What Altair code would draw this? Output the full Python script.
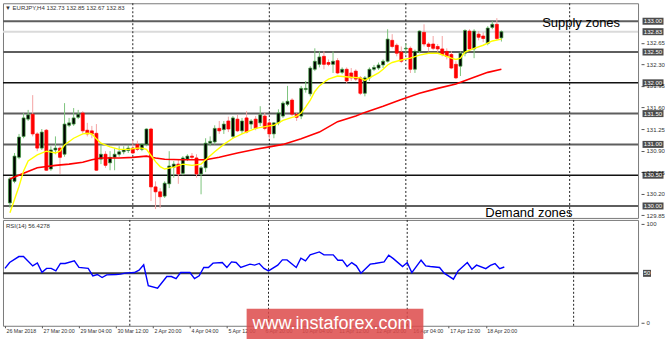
import json
import altair as alt
import pandas as pd

FONT = "Liberation Sans"

symbol = "EURJPY,H4"

# ---- H4 candles, bar 0 = 26 Mar 2018 12:00 ----
opens = [130.05, 130.40, 130.79, 131.13, 131.41, 131.49, 131.17, 130.94, 131.23, 130.60,
         130.91, 130.94, 130.84, 131.31, 131.33, 131.44, 131.51, 131.23, 131.22, 131.18,
         130.76, 130.84, 130.70, 130.79, 130.84, 130.88, 130.90, 130.94, 131.00, 130.92,
         131.00, 131.25, 130.31, 130.23, 130.16, 130.36, 130.63, 130.68, 130.53, 130.76,
         130.81, 130.78, 130.52, 130.62, 131.02, 131.04, 131.26, 131.24, 131.38, 131.13,
         131.41, 131.22, 131.43, 131.33, 131.41, 131.35, 131.46, 131.35, 131.17, 131.35,
         131.46, 131.65, 131.72, 131.49, 131.46, 131.89, 131.82, 132.22, 132.30, 132.43,
         132.33, 132.30, 132.36, 132.17, 132.22, 132.16, 132.19, 132.08, 131.83, 132.08,
         132.22, 132.24, 132.29, 132.35, 132.69, 132.61, 132.50, 132.55, 132.56, 132.22,
         132.51, 132.82, 132.63, 132.63, 132.59, 132.55, 132.51, 132.46, 132.30, 132.27,
         132.48, 132.84, 132.55, 132.79, 132.76, 132.64, 132.90, 132.95, 132.73]
highs = [130.47, 130.86, 131.17, 131.51, 131.56, 131.80, 131.20, 131.25, 131.25, 130.97,
         131.13, 130.97, 131.67, 131.43, 131.59, 131.56, 131.54, 131.35, 131.30, 131.33,
         131.00, 130.89, 130.89, 130.94, 130.97, 130.97, 130.99, 131.07, 131.06, 131.02,
         131.26, 131.27, 130.40, 130.29, 130.40, 130.89, 130.73, 130.76, 130.81, 130.84,
         130.86, 130.84, 130.65, 131.10, 131.13, 131.31, 131.38, 131.38, 131.45, 131.46,
         131.48, 131.43, 131.54, 131.41, 131.46, 131.62, 131.51, 131.40, 131.36, 131.57,
         131.70, 131.95, 131.75, 131.52, 131.95, 132.03, 132.27, 132.56, 132.51, 132.51,
         132.38, 132.51, 132.40, 132.25, 132.25, 132.24, 132.22, 132.11, 132.11, 132.25,
         132.29, 132.33, 132.38, 132.87, 132.79, 132.64, 132.59, 132.64, 132.59, 132.54,
         132.85, 132.95, 132.66, 132.76, 132.63, 132.76, 132.56, 132.51, 132.35, 132.51,
         132.87, 132.87, 132.87, 132.84, 132.82, 132.92, 133.00, 133.05, 132.85]
lows = [129.97, 130.37, 130.76, 131.10, 131.38, 131.13, 130.89, 130.91, 130.57, 130.57,
        130.84, 130.52, 130.80, 131.28, 131.30, 131.41, 131.18, 131.13, 131.10, 130.57,
        130.68, 130.62, 130.58, 130.58, 130.80, 130.84, 130.86, 130.84, 130.89, 130.89,
        130.97, 130.08, 129.95, 129.97, 130.13, 130.29, 130.46, 130.36, 130.50, 130.73,
        130.76, 130.46, 130.19, 130.55, 130.97, 131.00, 131.17, 131.17, 131.20, 131.10,
        131.20, 131.17, 131.18, 131.25, 131.23, 131.30, 131.23, 131.09, 131.10, 131.31,
        131.43, 131.62, 131.46, 131.38, 131.41, 131.84, 131.78, 132.19, 132.25, 132.22,
        132.27, 132.16, 132.14, 132.14, 131.99, 132.03, 132.03, 131.80, 131.78, 132.03,
        132.19, 132.21, 132.24, 132.33, 132.56, 132.43, 132.32, 132.46, 132.16, 132.16,
        132.48, 132.59, 132.51, 132.53, 132.50, 132.43, 132.38, 132.22, 132.06, 132.11,
        132.43, 132.53, 132.40, 132.69, 132.66, 132.61, 132.87, 132.69, 132.67]
closes = [130.44, 130.81, 131.12, 131.43, 131.48, 131.17, 130.94, 131.20, 130.58, 130.91,
          130.94, 130.79, 131.33, 131.35, 131.43, 131.49, 131.22, 131.17, 131.17, 130.58,
          130.84, 130.66, 130.79, 130.84, 130.88, 130.91, 130.94, 130.86, 130.92, 131.00,
          131.25, 130.31, 130.23, 130.15, 130.37, 130.65, 130.68, 130.52, 130.78, 130.81,
          130.79, 130.52, 130.62, 131.02, 131.05, 131.26, 131.22, 131.33, 131.25, 131.43,
          131.22, 131.38, 131.20, 131.38, 131.26, 131.48, 131.26, 131.17, 131.35, 131.51,
          131.67, 131.70, 131.49, 131.44, 131.91, 131.91, 132.24, 132.35, 132.42, 132.30,
          132.30, 132.35, 132.16, 132.22, 132.03, 132.08, 132.06, 131.83, 132.08, 132.22,
          132.25, 132.29, 132.35, 132.71, 132.59, 132.48, 132.35, 132.56, 132.22, 132.51,
          132.84, 132.63, 132.59, 132.56, 132.55, 132.46, 132.43, 132.24, 132.08, 132.48,
          132.85, 132.55, 132.84, 132.74, 132.72, 132.89, 132.95, 132.72, 132.83]

# ---- moving averages (bar index, price) ----
ma_fast_idx = [0, 2, 3, 4, 6, 8, 10, 11, 12, 14, 16, 17, 18, 19, 20, 22, 24, 26, 28, 29,
               30, 31, 32, 33, 34, 36, 38, 40, 42, 43, 45, 47, 49, 51, 54, 57, 58, 60, 62, 63,
               64, 65, 66, 67, 68, 69, 70, 72, 75, 77, 78, 79, 80, 81, 82, 83, 84, 86, 88, 90,
               92, 94, 96, 97, 98, 99, 100, 102, 104, 106, 108]
ma_fast_val = [129.89, 130.32, 130.57, 130.73, 130.83, 130.89, 130.86, 130.89, 130.99, 131.10,
               131.17, 131.18, 131.17, 131.09, 131.02, 130.96, 130.92, 130.92, 130.94, 130.94,
               130.92, 130.82, 130.72, 130.64, 130.60, 130.63, 130.68, 130.66, 130.68, 130.75,
               130.88, 131.00, 131.10, 131.17, 131.26, 131.30, 131.31, 131.39, 131.44, 131.46,
               131.51, 131.61, 131.72, 131.86, 131.95, 132.01, 132.06, 132.11, 132.09, 132.08,
               132.04, 132.08, 132.12, 132.16, 132.22, 132.29, 132.33, 132.37, 132.40, 132.45,
               132.48, 132.48, 132.43, 132.40, 132.38, 132.40, 132.50, 132.56, 132.61, 132.68,
               132.71]
ma_slow_idx = [0, 3, 6, 10, 13, 16, 18, 20, 24, 27, 30, 32, 34, 38, 43, 46, 50, 54, 57, 60,
               64, 68, 72, 76, 78, 82, 86, 90, 94, 98, 102, 105, 108]
ma_slow_val = [130.44, 130.53, 130.62, 130.66, 130.68, 130.71, 130.75, 130.78, 130.78, 130.79,
               130.81, 130.78, 130.76, 130.75, 130.75, 130.79, 130.86, 130.92, 130.96, 131.00,
               131.09, 131.20, 131.37, 131.46, 131.52, 131.62, 131.73, 131.83, 131.91, 131.98,
               132.09, 132.17, 132.22]

# ---- RSI(14) ----
rsi_idx = [0, 1, 3, 4, 6, 7, 8, 9, 10, 11, 12, 13, 15, 16, 18, 19, 20, 21, 22, 24,
           25, 26, 28, 29, 30, 31, 33, 35, 36, 37, 38, 40, 41, 42, 43, 44, 45, 47, 48, 49,
           50, 51, 53, 54, 55, 56, 57, 59, 60, 61, 63, 64, 65, 66, 68, 69, 71, 72, 73, 74,
           75, 76, 77, 79, 80, 82, 83, 84, 86, 87, 88, 90, 91, 92, 94, 95, 97, 98, 100, 101,
           102, 104, 105, 106, 107, 108]
rsi_val = [55, 61, 67, 67, 57.5, 60.5, 51, 55, 55, 52.5, 60, 60, 62.6, 56, 55, 47.5, 48.8, 45.8, 48.5, 48.8,
           49.2, 50.2, 50.8, 53.2, 58.6, 37.4, 35, 46.8, 46.8, 44.7, 50.8, 50.8, 44.7, 47.5, 55.9, 55.9, 60.3, 61, 55.9, 61.6,
           61, 55.9, 59.3, 58.3, 60, 55, 52.5, 58.3, 63.6, 63.6, 55.9, 65.4, 62.6, 68.7, 71.7, 68.7, 68.7, 63.3, 63.3, 56.9,
           60.9, 57.6, 50.2, 59.3, 59.9, 61.6, 68.4, 64.9, 56.9, 60.9, 50.8, 63.3, 57.6, 56.9, 55.9, 50.2, 44.1, 52.5, 60.9, 54.2,
           58.3, 54.8, 58, 59.9, 54.8, 56.4278]
rsi_last = 56.4278
rsi_ticks = [0, 100]
rsi_mid = [50]

# ---- levels / labels ----
zone_levels = [133.00, 132.50, 131.50, 131.00, 130.00]
key_levels = [132.00, 130.50]
bid_level = [132.83]
price_ticks = [132.65, 132.30, 131.95, 131.60, 131.25, 130.90, 130.55, 130.20, 129.85]
separators = [27, 57, 87, 123]
date_ticks = [0, 8, 16, 24, 32, 40, 48, 56, 64, 72, 80, 88, 96, 104]
date_labels = ["26 Mar 2018", "27 Mar 20:00", "29 Mar 04:00", "30 Mar 12:00", "2 Apr 20:00",
               "4 Apr 04:00", "5 Apr 12:00", "6 Apr 20:00", "10 Apr 04:00", "11 Apr 12:00",
               "12 Apr 20:00", "16 Apr 04:00", "17 Apr 12:00", "18 Apr 20:00"]
supply_text = "Supply zones"
demand_text = "Demand zones"
watermark = "www.instaforex.com"

# ---------------- build ----------------
W, HP, HR = 636, 215, 106
xs = alt.Scale(domain=[-0.43, 136.93], nice=False, zero=False)
ys = alt.Scale(domain=[129.806, 133.292], nice=False, zero=False)
rs = alt.Scale(domain=[-3.03, 104.04], nice=False, zero=False)

price_axis = alt.Axis(orient="right", values=price_ticks, format=".2f", labelFontSize=6,
                      labelColor="#333333", tickSize=3, tickColor="#555555", labelPadding=2,
                      offset=3, domain=False, grid=False, title=None, labelOverlap=False,
                      labelFont=FONT, labelBound=False, labelFlush=False)
rsi_axis = alt.Axis(orient="right", values=rsi_ticks, format="d", labelFontSize=6,
                    labelColor="#333333", tickSize=3, tickColor="#555555", labelPadding=2,
                    offset=3, domain=False, grid=False, title=None, labelOverlap=False,
                    labelFont=FONT, labelBound=False, labelFlush=False)
label_expr = f"{json.dumps(date_labels)}[indexof({json.dumps(date_ticks)}, datum.value)]"
date_axis = alt.Axis(values=date_ticks, labelExpr=label_expr, labelAlign="left",
                     labelBaseline="top", labelFontSize=5.3, labelColor="#333333", tickSize=2,
                     tickColor="#555555", labelPadding=1, labelOffset=1, domain=False,
                     grid=False, title=None, labelOverlap=False, labelFlush=False,
                     labelBound=False, labelFont=FONT)


def XT(f):
    return alt.X(f, scale=xs, axis=None)


def XB(f):
    return alt.X(f, scale=xs, axis=date_axis)


def YP(f):
    return alt.Y(f, scale=ys, axis=price_axis)


def YR(f):
    return alt.Y(f, scale=rs, axis=rsi_axis)


bars = pd.DataFrame({"i": list(range(len(opens))), "open": opens, "high": highs,
                     "low": lows, "close": closes})
fast = pd.DataFrame({"i": ma_fast_idx, "v": ma_fast_val})
slow = pd.DataFrame({"i": ma_slow_idx, "v": ma_slow_val})
rsi = pd.DataFrame({"i": rsi_idx, "v": rsi_val})
seps = pd.DataFrame({"s": separators})
zones = pd.DataFrame({"level": zone_levels})
keys = pd.DataFrame({"level": key_levels})
bid = pd.DataFrame({"level": bid_level})
boxed = pd.DataFrame({"level": zone_levels + key_levels + bid_level})

up = "datum.close >= datum.open"

zone_rules = alt.Chart(zones).mark_rule(color="#5e5e5e", strokeWidth=2).encode(y=YP("level:Q"))
key_rules = alt.Chart(keys).mark_rule(color="#111111", strokeWidth=1.5).encode(y=YP("level:Q"))
bid_rule = alt.Chart(bid).mark_rule(color="#dadada", strokeWidth=2).encode(y=YP("level:Q"))
sep_top = alt.Chart(seps).mark_rule(color="#222222", strokeWidth=1, strokeDash=[2, 2]).encode(x=XT("s:Q"))

wicks = alt.Chart(bars).mark_rule(strokeWidth=1).encode(
    x=XT("i:Q"), y=YP("low:Q"), y2="high:Q",
    color=alt.condition(up, alt.value("#7cc47c"), alt.value("#f4a3a3")))
bodies = alt.Chart(bars).mark_bar(size=3, strokeWidth=0.7).encode(
    x=XT("i:Q"), y=YP("open:Q"), y2="close:Q",
    color=alt.condition(up, alt.value("#000000"), alt.value("#ff0000")),
    stroke=alt.condition(up, alt.value("#3f9f3f"), alt.value("#ff0000")))
slow_line = alt.Chart(slow).mark_line(color="#ff0000", strokeWidth=1.6).encode(x=XT("i:Q"), y=YP("v:Q"))
fast_line = alt.Chart(fast).mark_line(color="#ffff00", strokeWidth=1.4).encode(x=XT("i:Q"), y=YP("v:Q"))

box_ticks = alt.Chart(boxed).mark_tick(orient="horizontal", size=21, thickness=7,
                                       color="#000000").encode(x=alt.value(W + 15), y=YP("level:Q"))
box_text = alt.Chart(boxed).mark_text(color="#ffffff", fontSize=6, font=FONT, align="center",
                                      baseline="middle").encode(
    x=alt.value(W + 15), y=YP("level:Q"), text=alt.Text("level:Q", format=".2f"))

header = f"\u25bc {symbol}  {opens[-1]:.2f} {highs[-1]:.2f} {lows[-1]:.2f} {closes[-1]:.2f}"
head_txt = alt.Chart(pd.DataFrame({"t": [header]})).mark_text(
    fontSize=6, font=FONT, color="#333333", align="left", baseline="middle").encode(
    x=alt.value(2), y=alt.value(5), text="t:N")
supply = alt.Chart(pd.DataFrame({"t": [supply_text]})).mark_text(
    fontSize=13, font=FONT, color="#000000", align="left", baseline="alphabetic").encode(
    x=alt.value(540), y=alt.value(24), text="t:N")
demand = alt.Chart(pd.DataFrame({"t": [demand_text]})).mark_text(
    fontSize=13, font=FONT, color="#000000", align="left", baseline="alphabetic").encode(
    x=alt.value(483), y=alt.value(214), text="t:N")

top = alt.layer(zone_rules, key_rules, bid_rule, sep_top, wicks, bodies, slow_line, fast_line,
                box_ticks, box_text, head_txt, supply, demand).properties(width=W, height=HP)

mid_rule = alt.Chart(pd.DataFrame({"v": rsi_mid})).mark_rule(color="#3c3c3c", strokeWidth=2).encode(y=YR("v:Q"))
sep_bot = alt.Chart(seps).mark_rule(color="#222222", strokeWidth=1, strokeDash=[2, 2]).encode(x=XB("s:Q"))
rsi_line = alt.Chart(rsi).mark_line(color="#0000ff", strokeWidth=1.4).encode(x=XB("i:Q"), y=YR("v:Q"))
mid_box = alt.Chart(pd.DataFrame({"v": rsi_mid})).mark_tick(orient="horizontal", size=8, thickness=7,
                                                         color="#000000").encode(x=alt.value(W + 9), y=YR("v:Q"))
mid_txt = alt.Chart(pd.DataFrame({"v": rsi_mid})).mark_text(color="#ffffff", fontSize=6, font=FONT,
                                                         align="center", baseline="middle").encode(
    x=alt.value(W + 9), y=YR("v:Q"), text=alt.Text("v:Q", format="d"))
rsi_title = alt.Chart(pd.DataFrame({"t": [f"RSI(14) {rsi_last:.4f}"]})).mark_text(
    fontSize=6, font=FONT, color="#333333", align="left", baseline="middle").encode(
    x=alt.value(3), y=alt.value(6), text="t:N")
wm_rect = alt.Chart(pd.DataFrame({"t": [watermark]})).mark_rect(color="#dd4a4a", opacity=0.85).encode(
    x=alt.value(244), x2=alt.value(421), y=alt.value(89), y2=alt.value(121))
wm_text = alt.Chart(pd.DataFrame({"t": [watermark]})).mark_text(
    fontSize=18, font=FONT, color="#ffffff", align="center", baseline="middle").encode(
    x=alt.value(330), y=alt.value(104), text="t:N")

bottom = alt.layer(mid_rule, sep_bot, rsi_line, mid_box, mid_txt, rsi_title, wm_rect, wm_text).properties(
    width=W, height=HR)

chart = alt.vconcat(top, bottom, spacing=2, bounds="flush").properties(
    padding={"left": 1, "top": 2, "right": 0, "bottom": 0},
    background="#ffffff",
).configure_view(stroke="#7a7a7a", strokeWidth=1)

chart.save("out.html", embed_options={"renderer": "svg", "actions": False})
